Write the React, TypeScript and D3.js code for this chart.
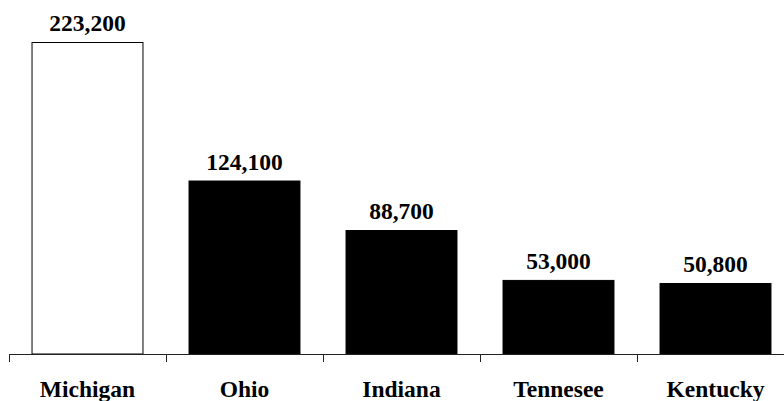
import React from "react";
import * as d3 from "d3";

const states: string[] = ["Michigan", "Ohio", "Indiana", "Tennesee", "Kentucky"];
const employment: number[] = [223200, 124100, 88700, 53000, 50800];
const highlighted: boolean[] = [true, false, false, false, false];

const W = 784;
const H = 401;
const baseY = 354;
const topY = 42;

const labelStyle: React.CSSProperties = {
  fontFamily: "Liberation Serif, Times New Roman, Times, serif",
  fontWeight: 700,
  fontSize: "23.5px",
};

export default function App() {
  const x = d3.scaleBand<string>().domain(states).range([9, 794]).paddingInner(0.287).paddingOuter(0.1435);
  const y = d3.scaleLinear().domain([0, d3.max(employment) as number]).range([baseY, topY]);
  const fmt = d3.format(",");
  const step = x.step();
  const tickXs = d3.range(states.length + 1).map((i) => 9 + i * step);

  return (
    <svg
      width={W}
      height={H}
      style={{ position: "absolute", left: 0, top: 0, background: "#fff" }}
    >
      {states.map((s, i) => {
        const bx = x(s) as number;
        const by = y(employment[i]);
        return (
          <g key={s}>
            <rect
              x={bx + 0.5}
              y={by + 0.5}
              width={x.bandwidth() - 1}
              height={baseY - by - 0.5}
              fill={highlighted[i] ? "#ffffff" : "#000000"}
              stroke="#000"
              strokeWidth={1}
            />
            <text
              x={bx + x.bandwidth() / 2}
              y={by - 11}
              textAnchor="middle"
              style={labelStyle}
              fill="#000"
            >
              {fmt(employment[i])}
            </text>
            <text
              x={bx + x.bandwidth() / 2}
              y={396.5}
              textAnchor="middle"
              style={labelStyle}
              fill="#000"
            >
              {s}
            </text>
          </g>
        );
      })}
      <line x1={9} x2={794} y1={baseY + 0.5} y2={baseY + 0.5} stroke="#222" strokeWidth={1} />
      {tickXs.map((tx, i) => (
        <line key={i} x1={tx + 0.5} x2={tx + 0.5} y1={baseY} y2={baseY + 8} stroke="#222" strokeWidth={1} />
      ))}
    </svg>
  );
}
